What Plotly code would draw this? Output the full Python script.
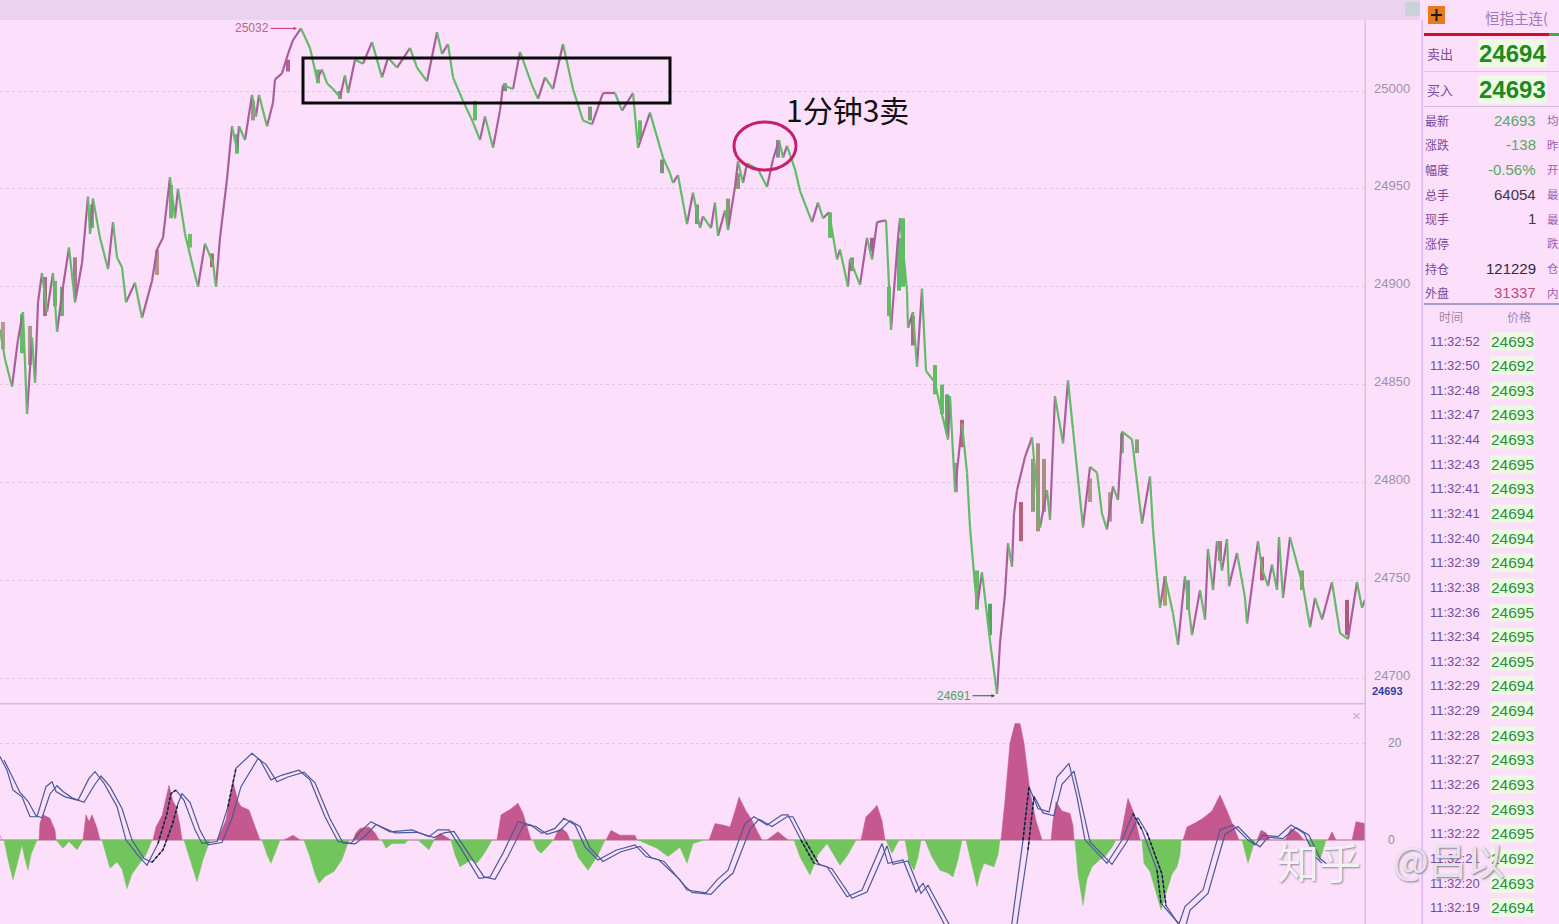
import plotly.graph_objects as go

W, H = 1559, 924

# ---------- data ----------
price_x = [0,5,12,18,23,27,32,35,38,42,47,53,57,63,69,75,82,88,90,93,100,108,113,117,122,126,135,142,152,157,163,170,175,178,185,193,198,205,213,216,220,227,232,237,239,245,252,256,259,267,273,275,282,288,293,301,310,317,322,327,333,340,345,348,355,363,372,382,388,397,410,417,427,437,442,448,453,463,473,480,485,493,500,503,513,520,532,538,545,553,563,573,583,592,603,615,622,633,638,650,663,670,673,678,687,693,700,703,711,715,718,725,728,735,738,743,747,758,767,773,779,783,787,795,800,812,818,823,829,837,840,848,850,860,867,872,877,886,891,898,900,907,908,913,917,922,926,935,940,948,950,955,962,967,970,977,982,990,997,1000,1005,1008,1012,1014,1017,1025,1032,1036,1040,1047,1050,1055,1063,1068,1073,1083,1090,1097,1102,1107,1113,1118,1122,1132,1142,1150,1153,1157,1160,1165,1173,1178,1185,1192,1200,1205,1208,1213,1217,1222,1227,1229,1237,1245,1247,1258,1262,1268,1272,1277,1279,1283,1290,1303,1310,1315,1322,1332,1340,1348,1357,1362,1365]
price_y = [24878,24863,24849,24873,24887,24835,24874,24851,24892,24907,24887,24907,24877,24900,24920,24892,24912,24946,24927,24945,24925,24909,24933,24915,24910,24892,24902,24884,24903,24919,24925,24956,24935,24950,24927,24910,24900,24922,24912,24900,24925,24955,24982,24970,24982,24975,24998,24987,24998,24982,24994,25006,25009,25019,25026,25032,25022,25006,25011,25004,25001,24997,25008,24999,25016,25014,25025,25007,25017,25012,25022,25012,25005,25030,25019,25024,25007,24995,24984,24975,24987,24971,24990,25003,25001,25020,25003,24996,25007,25001,25024,25001,24985,24983,24999,24999,24990,24999,24971,24989,24966,24958,24953,24957,24932,24948,24930,24936,24930,24943,24926,24939,24929,24951,24964,24953,24963,24960,24951,24965,24975,24966,24972,24960,24949,24933,24943,24935,24938,24914,24919,24900,24914,24901,24925,24914,24933,24934,24878,24925,24935,24898,24879,24887,24859,24899,24857,24851,24839,24822,24844,24796,24830,24805,24777,24736,24754,24719,24692,24718,24743,24769,24757,24784,24796,24813,24823,24801,24777,24796,24781,24844,24820,24852,24827,24777,24808,24805,24784,24776,24798,24791,24826,24822,24779,24803,24776,24752,24736,24752,24733,24717,24752,24722,24745,24730,24766,24745,24770,24755,24771,24747,24764,24741,24728,24770,24756,24747,24758,24745,24772,24741,24772,24747,24726,24741,24730,24749,24723,24720,24749,24736,24740]

# wider candle bodies that stand out in the price pane
body_x = [3,22,30,45,55,62,75,92,157,171,190,212,237,253,288,318,340,475,505,590,640,662,697,728,738,778,830,852,872,889,899,903,913,935,942,947,956,962,977,990,1021,1033,1038,1044,1090,1110,1122,1137,1165,1188,1220,1262,1302,1347]
body_lo = [24868,24866,24860,24885,24890,24885,24895,24930,24906,24935,24920,24910,24968,24985,25010,25004,24996,24985,25000,24985,24975,24958,24932,24932,24950,24966,24925,24908,24918,24885,24898,24900,24870,24845,24835,24825,24795,24818,24735,24722,24770,24785,24775,24785,24790,24780,24815,24815,24737,24735,24760,24750,24745,24722]
body_hi = [24882,24886,24880,24905,24903,24900,24915,24942,24919,24952,24927,24917,24978,24995,25016,25011,25000,24995,25004,24992,24985,24965,24942,24945,24958,24975,24938,24915,24925,24900,24925,24935,24885,24860,24850,24845,24810,24832,24755,24738,24790,24812,24820,24812,24802,24795,24825,24822,24752,24750,24770,24762,24755,24740]
body_colors = ["#b49a90","#62bb66","#a89a90","#b06a90","#7aaa70","#62bb66","#a87a90","#62bb66","#b99488","#6fb46f","#6fbf63","#c0606c","#62bb66","#b08a98","#b0609a","#62bb66","#7f8f80","#62bb66","#7f8f80","#7f9a80","#62bb66","#7f9080","#7f8f80","#8a9a70","#8a9a70","#8090a0","#62bb66","#7f9a70","#a0609a","#62bb66","#62bb66","#62bb66","#b06a80","#62bb66","#62bb66","#55b05a","#9a9a90","#c06070","#62bb66","#55a560","#b8607a","#8f9a80","#a88f80","#a88f80","#b09a88","#a89a80","#6fbb66","#8f9a80","#a8a070","#7f9a80","#b0708a","#c0607a","#8fa070","#b05a7a"]

hist_pos = [
    [(0,1.0),(2,0)],
    [(39,0),(40,3.5),(43,5.2),(50,4.5),(55,2),(56,0)],
    [(83,0),(85,4),(86,5.2),(89,3.8),(92,5.2),(97,2.5),(100,0)],
    [(153,0),(156,2.7),(162,5),(166,9),(169,11.3),(173,8),(176,6.9),(180,3),(182,0)],
    [(217,0),(226,4.1),(230,9),(233,12),(238,8),(241,6.9),(249,6.2),(255,3),(260,0)],
    [(284,0),(293,1),(300,0)],
    [(353,0),(356,1.5),(360,2.4),(369,2.7),(375,1.5),(379,0)],
    [(434,0),(440,1.4),(451,0)],
    [(497,0),(499,3),(501,5.2),(510,6.3),(518,7.6),(523,5.5),(528,2),(531,0)],
    [(554,0),(558,2),(562,2.4),(567,1.5),(570,0)],
    [(606,0),(611,2),(620,1),(635,1),(637,0)],
    [(709,0),(715,3.4),(723,3.1),(730,2.7),(735,6),(739,8.9),(746,6),(752,4.1),(758,1.5),(762,0)],
    [(767,0),(778,1.7),(788,0)],
    [(861,0),(864,3),(866,4.8),(872,6),(877,7.2),(882,4),(885,0)],
    [(1001,0),(1005,8.2),(1010,20),(1015,24),(1020,24),(1024,20),(1030,10),(1036,4),(1042,0)],
    [(1051,0),(1053,4),(1056,7.9),(1062,6),(1070,5.5),(1073,3),(1074,0)],
    [(1120,0),(1124,4),(1128,8.6),(1134,5.5),(1138,2),(1140,0)],
    [(1183,0),(1187,2.7),(1195,3.5),(1203,4.5),(1212,6),(1220,9.3),(1226,6.5),(1233,3),(1239,0)],
    [(1257,0),(1261,2),(1266,1.5),(1270,0)],
    [(1285,0),(1291,2.4),(1298,1.5),(1304,0)],
    [(1328,0),(1332,1.7),(1336,0)],
    [(1352,0),(1356,3.8),(1365,3.4),(1365,0)],
]
hist_neg = [
    [(4,0),(8,-4),(13,-8.2),(17,-5),(22,-1),(25,-4),(28,-6.2),(31,-3),(37,0)],
    [(56,0),(63,-1.7),(69,-0.3),(77,-2),(83,0)],
    [(102,0),(106,-3),(110,-5.8),(117,-4.5),(122,-6),(127,-10),(132,-7),(139,-5),(146,-3),(152,0)],
    [(184,0),(190,-4),(197,-8.6),(203,-4),(210,0)],
    [(262,0),(267,-3),(271,-4.8),(276,-2),(280,0)],
    [(304,0),(310,-3.5),(315,-7),(319,-8.9),(325,-7.5),(334,-6.5),(342,-4),(349,0)],
    [(382,0),(386,-1.7),(392,-0.7),(405,-0.7),(408,0)],
    [(418,0),(429,-2),(434,0)],
    [(451,0),(455,-3),(460,-5.5),(471,-4.1),(477,-4.8),(485,-2.5),(492,0)],
    [(533,0),(537,-2),(541,-2.7),(547,-1.5),(553,0)],
    [(572,0),(578,-3.5),(588,-6.2),(597,-3.5),(605,0)],
    [(638,0),(657,-1.7),(668,-3.4),(680,-1.5),(687,-4.8),(693,-0.7),(704,0)],
    [(794,0),(800,-3.5),(810,-7.2),(818,-3),(827,-0.7),(834,-3),(840,-5.2),(848,-3),(856,0)],
    [(886,0),(892,-2.7),(899,0)],
    [(905,0),(909,-4.5),(914,-6.2),(918,-3.5),(921,0)],
    [(925,0),(932,-3.5),(940,-6.2),(948,-6.8),(953,-7.6),(958,-4),(962,0)],
    [(966,0),(971,-4.5),(977,-9.6),(980,-7),(984,-4.8),(994,-5.5),(998,-3),(1000,0)],
    [(1075,0),(1078,-7),(1083,-13.4),(1087,-8),(1092,-5.5),(1100,-4),(1105,-3.4),(1112,-1.5),(1116,0)],
    [(1142,0),(1144,-4.8),(1150,-6.5),(1155,-10),(1161,-14.4),(1166,-11),(1172,-7),(1177,-5.5),(1180,-3),(1181,0)],
    [(1242,0),(1248,-4.8),(1255,0)],
    [(1307,0),(1314,-2.5),(1320,-4.1),(1326,0)],
]

dif_x = [0,7,13,22,30,37,46,52,56,65,78,89,95,104,117,126,139,147,158,167,171,176,184,195,202,217,228,236,252,260,271,282,299,310,325,338,351,360,371,390,412,429,438,449,460,479,490,503,518,531,542,555,564,575,585,598,616,635,646,659,680,687,706,717,728,745,754,767,782,788,801,814,827,847,862,882,888,903,916,923,951,1010,1023,1029,1038,1049,1057,1069,1077,1085,1107,1122,1133,1142,1157,1161,1179,1185,1203,1220,1233,1248,1255,1263,1278,1291,1304,1315,1322]
dif_y = [17.2,14.4,10.3,8.9,4.8,4.8,11,12,10,8.9,8.2,12.7,14.1,11.7,6.9,0,-3.4,-5.2,-0.7,5.5,9.6,10.3,8.2,2.1,-0.7,-0.3,6.9,14.8,17.9,16.5,12.4,13.4,14.4,12.4,4.8,-0.3,-0.7,1.7,3.8,1.7,2.1,0.7,2.1,2.1,-1.4,-7.9,-7.6,-2.7,3.8,3.1,1.4,2.4,4.5,3.1,-1.4,-4.1,-2.1,-1,-3.4,-4.1,-8.2,-10.3,-10.9,-8.2,-6.2,3.4,4.8,3.1,5.2,5.2,0,-4.8,-5.5,-11.7,-10.3,-0.7,-4.8,-4.1,-10.7,-8.9,-20,-20,0,11,6.5,5.8,13,15.8,8.9,0,-4.8,0,5.5,2.1,-6.2,-13,-17.3,-13.7,-10.3,2.1,3.1,0,-1,1,0.7,3.1,1.4,-3.4,-4.8]
dea_x = [4,12,20,28,36,42,50,57,63,72,84,94,101,110,122,132,144,152,163,172,178,182,190,200,208,222,232,241,258,266,277,288,304,315,330,343,355,365,376,395,417,434,444,454,465,484,495,508,524,536,547,560,570,580,590,603,621,640,651,664,685,692,711,722,733,750,759,772,787,793,806,819,832,852,867,887,893,908,921,928,956,1015,1028,1034,1043,1054,1062,1074,1082,1090,1112,1127,1138,1147,1162,1166,1184,1190,1208,1225,1238,1253,1260,1268,1283,1296,1309,1320,1327]
dea_y = [16.5,13,9.8,8,5,4.6,9.5,11.2,10,8.7,7.8,11.2,13.2,11,6.5,0,-3.8,-4.6,-2,3,7.5,9.6,7.8,2,-1,-0.5,4.5,11,16.8,15.6,12,13,14,11.8,4.4,-0.6,-0.8,0.8,3.2,1.5,1.6,0.5,1.5,1.8,-1.6,-7.6,-8.1,-3.4,3.2,2.8,1.2,2,4,2.8,-1.6,-4.4,-2.4,-1.3,-3.6,-4.4,-9.5,-10.8,-11.2,-8.8,-6.8,2.2,4.3,2.8,4.8,4.8,-0.4,-5,-5.9,-12,-10.7,-1.2,-5,-4.3,-11,-9.3,-20,-20,-2,9,5.6,5,11.5,14.2,7,-0.4,-5,-0.3,4.6,1.5,-7,-13.5,-19,-14.5,-11,1.2,2.8,-0.4,-1.4,0.6,0.3,2.6,1,-3.8,-5]

price_ticks = [25000,24950,24900,24850,24800,24750,24700]
macd_ticks = [0,20]
quote_labels = ["最新","涨跌","幅度","总手","现手","涨停","持仓","外盘"]
quote_values = ["24693","-138","-0.56%","64054","1","","121229","31337"]
quote_colors = ["#5aa860","#5aa860","#5aa860","#3a3a4a","#3a3a4a","#3a3a4a","#2c2c3a","#c04a80"]
side_labels = ["均","昨","开","最","最","跌","仓","内"]
tick_times = ["11:32:52","11:32:50","11:32:48","11:32:47","11:32:44","11:32:43","11:32:41","11:32:41","11:32:40","11:32:39","11:32:38","11:32:36","11:32:34","11:32:32","11:32:29","11:32:29","11:32:28","11:32:27","11:32:26","11:32:22","11:32:22","11:32:21","11:32:20","11:32:19"]
tick_prices = ["24693","24692","24693","24693","24693","24695","24693","24694","24694","24694","24693","24695","24695","24695","24694","24694","24693","24693","24693","24693","24695","24692","24693","24694"]

# x spans where the MACD lines turn black and broken over the histogram
dark_spans = [(150,180),(224,240),(760,775),(800,822),(1018,1036),(1128,1142),(1145,1170)]

# ---------- styles ----------
BG = "#fcdffb"
CJK = "Noto Sans CJK SC"
LAT = "Liberation Sans"
UP, DOWN = "#a8609a", "#62bb66"

fig = go.Figure()

# candle bodies
fig.add_trace(go.Bar(x=body_x, base=body_lo, y=[h - l for h, l in zip(body_hi, body_lo)],
                     width=4, marker=dict(color=body_colors, line=dict(width=0)),
                     xaxis="x", yaxis="y", hoverinfo="skip", showlegend=False))

# price path, split into rising and falling strokes
for colour, keep in ((UP, lambda a, b: b >= a), (DOWN, lambda a, b: b < a)):
    xs, ys = [], []
    for i in range(len(price_x) - 1):
        if keep(price_y[i], price_y[i + 1]):
            xs += [price_x[i], price_x[i + 1], None]
            ys += [price_y[i], price_y[i + 1], None]
    fig.add_trace(go.Scatter(x=xs, y=ys, mode="lines", line=dict(color=colour, width=2.2),
                             xaxis="x", yaxis="y", hoverinfo="skip", showlegend=False))

# MACD histogram areas
for segs, colour in ((hist_pos, "#c4588f"), (hist_neg, "#72c45c")):
    for seg in segs:
        fig.add_trace(go.Scatter(x=[p[0] for p in seg], y=[p[1] for p in seg], mode="lines",
                                 fill="toself", fillcolor=colour, line=dict(color=colour, width=0.5),
                                 xaxis="x", yaxis="y2", hoverinfo="skip", showlegend=False))

# MACD lines
for xs, ys in ((dif_x, dif_y), (dea_x, dea_y)):
    fig.add_trace(go.Scatter(x=xs, y=ys, mode="lines", line=dict(color="#4a5a98", width=1.2),
                             xaxis="x", yaxis="y2", hoverinfo="skip", showlegend=False))
    for a, b in dark_spans:
        pts = [(x, y) for x, y in zip(xs, ys) if a <= x <= b]
        if len(pts) > 1:
            fig.add_trace(go.Scatter(x=[p[0] for p in pts], y=[p[1] for p in pts], mode="lines",
                                     line=dict(color="#1c1c2a", width=1.5, dash="3px,2px"),
                                     xaxis="x", yaxis="y2", hoverinfo="skip", showlegend=False))

ann = []
def px(x, y, text, size=13, color="#555", font=LAT, xanchor="center", **kw):
    f = dict(size=size, color=color, family=font)
    if "shadow" in kw:
        f["shadow"] = kw.pop("shadow")
    ann.append(dict(xref="paper", yref="paper", x=x / W, y=1 - y / H, text=text, showarrow=False,
                    xanchor=xanchor, yanchor="middle", font=f, borderpad=0, **kw))

# annotations inside the chart
ann.append(dict(xref="x", yref="y", x=847, y=24991, text="1分钟3卖", showarrow=False,
                font=dict(size=30, color="#111", family=CJK)))
ann.append(dict(xref="x", yref="y", x=297, y=25032, text="25032", ax=-45, ay=0, showarrow=True,
                arrowhead=2, arrowsize=0.7, arrowwidth=1, arrowcolor="#d0357f",
                font=dict(size=12, color="#b06a90", family=LAT)))
ann.append(dict(xref="x", yref="y", x=995, y=24691, text="24691", ax=-41, ay=0, showarrow=True,
                arrowhead=2, arrowsize=0.7, arrowwidth=1, arrowcolor="#226622",
                font=dict(size=12, color="#4aa35a", family=LAT)))
px(1387, 691, "<b>24693</b>", 11, "#2f3f96")
px(1356, 715, "×", 15, "#b9aed6")

# right-hand quote panel
px(1484, 17, "恒指主连(", 14.5, "#a078b8", CJK, xanchor="left")
px(1440, 54, "卖出", 13, "#7a4a9a", CJK)
px(1440, 90, "买入", 13, "#7a4a9a", CJK)
px(1512, 53, "<b>24694</b>", 24, "#1f8a1f", xanchor="center", bgcolor="#eefbe4")
px(1512, 90, "<b>24693</b>", 24, "#1f8a1f", xanchor="center", bgcolor="#eefbe4")
for i, (lab, val, col, side) in enumerate(zip(quote_labels, quote_values, quote_colors, side_labels)):
    y = 120 + i * 24.7
    px(1437, y, lab, 12, "#7a4a9a", CJK)
    if val:
        px(1537, y, val, 15, col, xanchor="right")
    px(1546, y, side, 11.5, "#a060b0", CJK, xanchor="left")
px(1451, 316, "时间", 12, "#9a88aa", CJK)
px(1519, 316, "价格", 12, "#9a88aa", CJK)
for i, (t, p) in enumerate(zip(tick_times, tick_prices)):
    y = 341 + i * 24.64
    px(1455, y, t, 13, "#6f4f96")
    px(1512, y, p, 15.5, "#2e8f3c", bgcolor="#eafbe2")

# watermark
px(1319, 860, "知乎", 42, "#f4f1f6", CJK, shadow="1px 1px 2px #8a8a94")
px(1449, 858, "@吕以", 38, "#e6e3ec", CJK, shadow="1px 1px 2px #7f7f8a")

shapes = [
    dict(type="rect", xref="x", yref="y", x0=303, x1=670, y0=24993.9, y1=25016.9,
         line=dict(color="#0a0a0a", width=3)),
    dict(type="circle", xref="x", yref="y", x0=734, x1=796, y0=24959.6, y1=24984.2,
         line=dict(color="#c81e6e", width=3)),
]
def pr(x0, y0, x1, y1, color, layer="above"):
    shapes.append(dict(type="rect", xref="paper", yref="paper", x0=x0 / W, x1=x1 / W,
                       y0=1 - y1 / H, y1=1 - y0 / H, fillcolor=color, line=dict(width=0), layer=layer))
pr(0, 0, 1420, 20, "#e9d3ef")                # top band
pr(1405, 2, 1420, 16, "#c9d2d8")             # scroll stub
pr(1364.5, 20, 1366, 924, "#d5c4e0")         # axis rule
pr(1421.5, 20, 1423, 924, "#dcb8ea")         # panel rule
pr(0, 703, 1366, 704.5, "#cdbcdc")           # pane divider
pr(1424, 33, 1549, 36, "#cf1020")            # red bar
pr(1549, 33, 1559, 36, "#3fae3f")            # green bar
pr(1424, 71, 1559, 72, "#e0c4e8")
pr(1424, 106, 1559, 107, "#d0bcdc")
pr(1424, 303, 1559, 305, "#a99cc4")
pr(1428, 6, 1445, 24, "#e77a1e")             # menu icon
pr(1431, 14, 1442, 16, "#1a1a1a")
pr(1435.5, 9, 1437.5, 21, "#1a1a1a")

fig.update_layout(
    width=W, height=H, margin=dict(l=0, r=0, t=0, b=0),
    paper_bgcolor=BG, plot_bgcolor=BG, showlegend=False, barmode="overlay",
    annotations=ann, shapes=shapes,
    xaxis=dict(domain=[0, 1365 / W], range=[0, 1365], showticklabels=False, showgrid=False,
               zeroline=False, ticks="", anchor="y"),
    yaxis=dict(domain=[1 - 703 / H, 1 - 20 / H], range=[24687.3, 25036.3], side="right",
               tickvals=price_ticks, ticktext=[str(v) for v in price_ticks], ticks="",
               tickfont=dict(size=13, color="#9a93a5", family=LAT), ticklabelstandoff=8, ticklabelshift=-3,
               showgrid=True, gridcolor="#e2c8e4", griddash="dot", gridwidth=1, zeroline=False, anchor="x"),
    yaxis2=dict(domain=[0, 1 - 703 / H], range=[-17.3, 28.25], side="right",
                tickvals=macd_ticks, ticktext=[str(v) for v in macd_ticks], ticks="",
                tickfont=dict(size=12, color="#8d8d98", family=LAT), ticklabelstandoff=22,
                showgrid=True, gridcolor="#e2c8e4", griddash="dot", gridwidth=1,
                zeroline=True, zerolinecolor="#d4a6c4", zerolinewidth=2, anchor="x"),
)

fig.write_html("out.html", config={"displayModeBar": False},
               post_script="document.body.style.margin='0';document.body.style.overflow='hidden';")
